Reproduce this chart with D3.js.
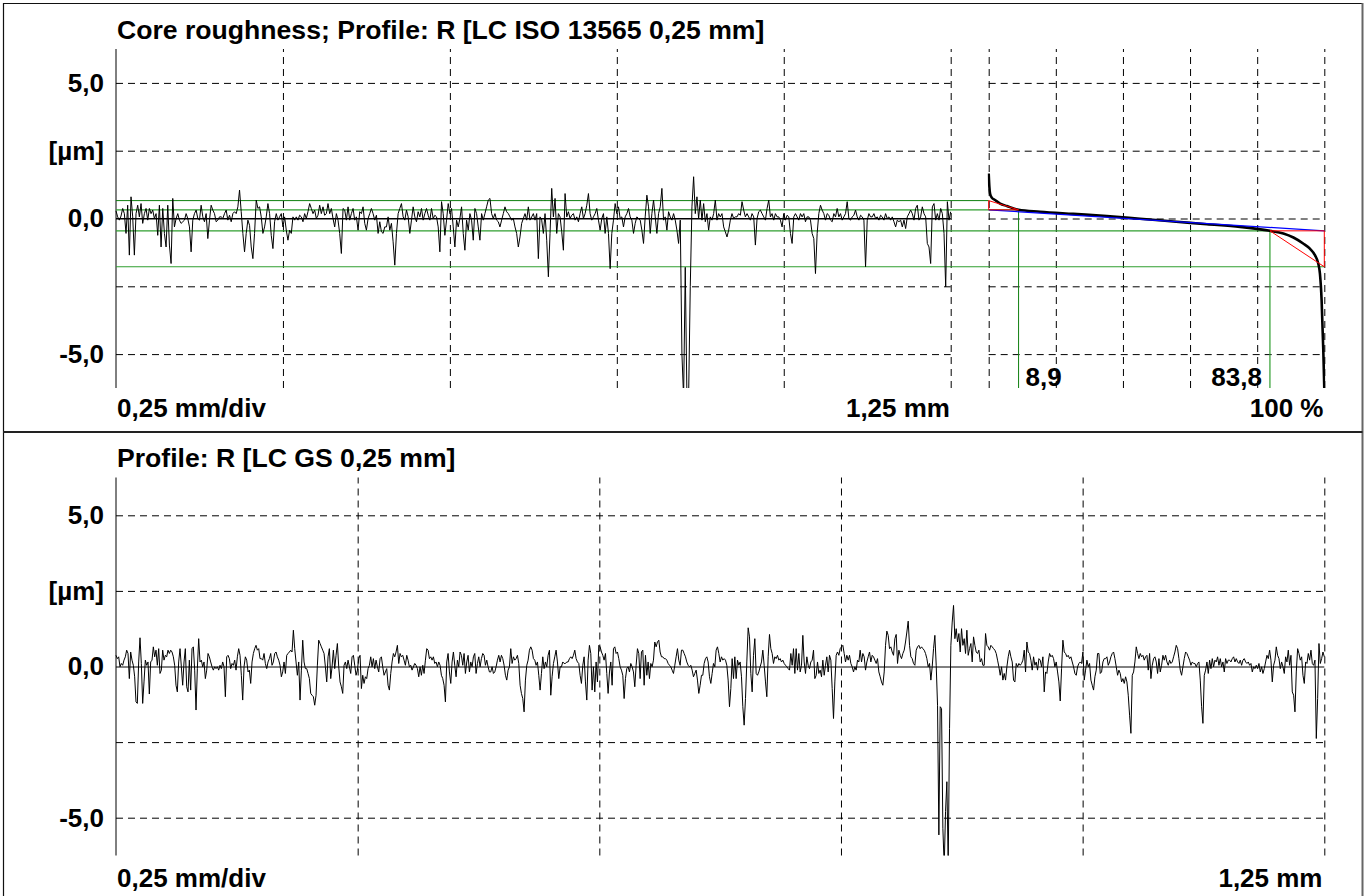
<!DOCTYPE html>
<html>
<head>
<meta charset="utf-8">
<title>Core roughness</title>
<script src="https://cdn.jsdelivr.net/npm/d3@7"></script>
<style>
  html, body { margin: 0; padding: 0; background: #fff; }
  svg { display: block; }
  text { font-family: "Liberation Sans", Arial, Helvetica, sans-serif; font-weight: bold; fill: #000; }
</style>
</head>
<body>
<svg id="chart" width="1370" height="896"></svg>
<script>
// ---- measurement data -------------------------------------------------------
const traverseMm = 1.25;            // evaluation length
const heightLimit = 6.25;           // vertical display range +/- [µm]

// Roughness profile, ISO 13565 filter (µm, equally spaced over traverseMm)
const profileISO = [
  0.28,0.06,-0.06,0.09,0.37,0.18,-0.55,0.49,-1.35,0.80,0.06,-1.35,0.18,0.49,0.06,0.55,-0.18,0.18,0.37,-0.06,
  0.37,0.18,0.31,0.00,0.18,-0.62,0.49,-1.05,0.37,-0.55,-1.05,0.49,-0.98,-1.66,0.74,-0.31,0.00,0.18,-0.06,-0.18,
  -0.12,-0.06,0.18,0.00,-0.31,-1.23,-0.06,0.18,0.31,0.00,-0.06,0.49,0.06,-0.12,0.18,-0.74,-0.06,0.49,0.31,0.18,
  -0.12,-0.06,0.06,0.06,0.00,0.18,0.31,-0.06,0.12,-0.12,0.18,0.25,0.18,0.43,1.05,0.25,-0.55,-1.23,-0.55,-0.06,
  -0.25,-1.05,-1.48,-0.55,0.68,0.37,0.43,0.06,-0.55,-0.31,0.06,0.55,0.18,-0.62,-1.11,-0.12,0.18,-0.06,0.06,0.18,
  -0.31,0.06,-0.43,-0.80,-0.43,-0.55,0.06,-0.06,0.06,-0.06,0.12,0.06,-0.12,0.18,0.00,0.25,0.55,0.37,0.18,0.31,
  0.00,0.12,0.49,0.18,0.43,0.12,0.18,0.55,0.18,0.37,0.00,-0.31,0.18,-0.06,-0.55,-1.29,0.37,0.31,-0.06,0.43,
  -0.06,0.18,0.37,-0.06,0.06,-0.43,0.25,0.18,0.43,-0.18,-0.43,0.00,0.18,0.37,0.18,-0.06,0.12,-0.55,-0.12,-0.49,
  -0.55,-0.31,-0.31,0.06,-0.43,-0.18,-0.86,-1.72,-0.55,0.18,0.37,0.55,0.06,-0.06,0.31,0.06,-0.55,-0.06,0.43,0.06,
  -0.12,0.25,0.06,0.37,-0.06,0.18,0.37,0.12,-0.06,0.37,0.00,0.12,0.06,-0.31,-1.23,0.62,0.18,-0.62,-0.06,0.55,
  0.18,0.37,-0.31,-1.05,-0.06,-0.31,
  0.00,0.43,-0.55,-1.17,-0.06,-0.43,0.18,-0.06,-0.80,0.37,0.18,-0.31,-0.80,0.18,-0.06,0.18,0.43,0.68,0.74,0.18,
  0.00,0.18,-0.06,-0.12,-0.31,-0.06,0.18,0.43,0.25,0.18,0.06,-0.06,0.00,-0.31,-0.55,-1.05,-0.68,-0.18,0.00,0.18,
  -0.06,0.43,-0.06,0.06,0.18,-0.06,0.18,-1.48,0.06,-0.06,-0.55,0.18,-0.80,-2.15,-0.55,1.11,0.06,0.74,-0.55,0.18,
  0.06,-0.49,-1.17,0.92,0.06,0.25,0.00,0.12,0.18,-0.06,0.06,-0.12,0.18,0.43,0.00,0.18,0.49,0.92,0.18,-0.06,
  0.06,0.18,0.37,-0.06,-0.43,0.00,0.18,-0.55,0.06,-0.55,-1.85,-0.55,-0.06,0.55,0.18,0.43,0.00,0.06,-0.31,0.06,
  0.18,0.37,0.06,-0.06,-0.55,-0.18,0.06,0.00,-0.06,-0.43,-0.92,0.06,0.86,0.43,-0.55,0.18,0.68,0.06,-0.55,0.18,
  0.43,1.11,-0.06,0.06,-0.43,0.25,0.06,-0.06,0.18,-0.06,-0.43,-0.92,-0.06,-5.00,-6.60,-1.80,-6.60,-6.60,-2.50,0.43,
  1.54,0.18,0.80,0.00,0.68,-0.06,0.55,-0.12,0.18,-0.43,0.06,-0.06,0.18,0.68,-0.06,0.18,0.06,0.18,-0.31,-0.49,
  -0.68,-0.43,-0.06,0.18,0.00,0.06,0.06,0.18,0.12,0.62,0.31,0.06,0.18,0.06,-0.06,0.18,0.06,-0.98,0.00,0.25,
  0.31,0.18,0.06,-0.06,0.37,0.68,0.06,0.18,-0.06,0.18,0.06,0.06,-0.06,-0.31,0.18,-0.06,0.12,0.06,-0.55,-0.92,
  0.06,0.18,0.06,-0.06,0.18,0.06,0.18,-0.12,0.06,0.06,-0.06,-0.55,-0.74,-2.03,-0.55,0.18,0.49,0.31,0.18,-0.06,
  0.18,0.12,-0.06,-0.12,0.18,0.06,0.37,0.06,0.18,-0.06,0.06,0.18,0.62,0.00,-0.06,0.06,0.12,0.31,0.06,-0.06,
  0.12,0.06,-0.06,-1.78,-0.06,0.18,0.06,0.06,0.18,0.00,0.06,-0.06,0.12,0.06,-0.06,0.18,0.00,0.06,-0.06,0.06,
  -0.12,-0.31,-0.06,-0.12,-0.06,-0.31,-0.06,-0.37,0.06,0.18,0.31,0.18,-0.06,0.37,0.49,-0.06,0.06,0.43,0.18,0.06,
  -0.92,-1.05,-1.66,0.43,0.55,-0.06,0.18,-0.06,0.37,0.18,-0.55,-2.52,0.62,-0.06,0.25
];

// Roughness profile, Gaussian filter (µm, equally spaced over traverseMm)
const profileGS = [
  0.37,0.26,0.32,-0.01,0.10,0.04,0.21,0.32,0.54,0.43,-0.40,0.48,0.21,0.04,-0.34,-1.17,-1.22,0.15,0.95,0.10,
  -1.22,-0.51,0.21,0.04,0.15,-0.91,0.15,0.21,0.65,0.32,0.54,0.04,0.59,-0.23,-0.12,0.54,0.21,0.37,0.32,0.54,
  0.43,0.54,0.48,0.32,0.04,-0.62,-0.84,0.15,0.59,-0.01,-0.62,0.15,0.59,-0.67,-0.84,0.21,-0.78,0.59,0.65,-0.12,
  -1.44,-0.07,0.92,0.15,0.21,-0.01,0.15,-0.40,-0.12,0.43,0.32,0.15,-0.01,-0.12,-0.01,-0.07,-0.01,-0.12,0.04,-0.07,
  0.15,-0.01,-1.00,0.32,0.37,0.26,-0.07,0.10,0.04,0.21,-0.12,0.32,0.59,0.37,-0.29,-1.11,-0.01,0.32,0.21,-0.18,
  -0.12,-0.56,0.15,0.43,0.59,0.70,0.54,0.59,0.26,0.26,0.21,0.43,0.10,-0.07,0.15,0.26,0.43,0.04,0.15,0.43,
  0.48,0.32,0.21,0.04,-0.34,-0.18,0.15,-0.23,0.37,0.43,0.48,0.54,0.48,1.20,0.59,0.15,-0.29,0.15,-1.11,-0.12,
  0.87,0.15,-0.07,-0.07,-0.23,-0.40,-0.89,-0.95,-1.00,-1.28,-0.95,0.04,0.87,0.76,0.65,0.54,0.43,-0.01,-0.51,0.32,
  0.59,-0.40,-0.01,0.54,-0.07,0.37,0.76,-0.01,-0.51,-0.67,-0.89,0.04,0.15,-0.07,0.21,-0.01,-0.23,0.32,0.37,0.04,
  -0.29,-0.12,0.26,0.37,-0.73,-0.29,-0.56,-0.34,-0.40,-0.07,0.04,0.32,-0.01,0.26,-0.07,0.21,-0.01,-0.18,0.26,0.32,
  -0.01,-0.29,-0.18,-0.07,-0.62,-0.78,-0.23,0.15,0.43,0.32,0.48,0.70,0.10,0.43,0.32,0.37,0.21,0.04,0.37,0.21,
  -0.01,0.04,-0.12,-0.01,0.10,0.04,
  -0.07,-0.34,-0.01,-0.29,0.04,-0.23,0.21,0.59,0.54,0.26,0.32,0.21,0.32,0.10,0.15,-0.01,0.15,0.04,-0.29,-0.40,
  -0.62,-1.17,0.15,0.43,-0.18,-0.56,0.15,0.48,0.04,-0.34,0.21,-0.01,0.48,0.37,0.04,0.43,-0.23,0.15,0.37,-0.18,
  0.15,-0.01,0.32,0.43,-0.23,0.10,0.32,-0.01,0.26,0.43,0.37,0.04,0.21,-0.01,-0.18,-0.18,-0.01,-0.23,-0.18,-0.01,
  0.21,0.37,0.15,0.37,0.26,0.04,-0.29,-0.45,-0.12,-0.01,0.59,0.10,0.32,0.21,0.26,0.37,0.10,-0.62,-0.89,-1.06,
  -1.50,-0.45,0.04,0.21,0.54,0.65,0.54,0.26,0.21,0.04,0.15,-0.29,-0.78,-0.23,0.32,-0.07,0.15,-0.01,0.37,0.54,
  -0.95,-0.34,0.10,0.32,0.54,0.15,-0.40,-0.01,-0.01,0.15,0.10,0.10,0.15,0.15,0.26,0.32,0.26,0.37,0.54,0.26,
  0.15,0.10,-0.29,-0.56,0.04,0.32,-0.51,-1.11,0.21,0.70,0.43,-0.78,-0.01,-0.84,0.15,-0.51,0.70,0.65,0.48,0.37,
  0.21,0.43,-0.23,-0.89,-0.18,0.15,-0.62,0.59,0.65,0.43,0.48,0.26,-0.01,-0.12,-0.29,-1.06,-0.40,-0.07,-0.01,-0.18,
  0.10,-0.01,-0.18,-0.67,0.04,0.59,0.43,-0.40,0.48,0.54,-0.62,0.37,-0.29,0.15,-0.40,0.10,-0.01,0.21,0.81,0.65,
  0.81,0.87,0.48,0.32,0.32,0.26,0.26,0.21,0.10,0.04,-0.01,-0.12,-0.23,0.04,0.32,0.59,0.21,0.04,0.54,0.54,
  0.43,0.32,0.15,0.04,-0.01,0.04,-0.12,-0.34,-0.23,-0.12,-0.45,-0.89,-0.62,-0.29,-0.29,0.10,0.26,0.32,0.15,-0.34,
  -0.56,-0.23,0.10,-0.01,0.54,0.65,0.43,
  0.15,0.32,0.21,0.26,0.21,0.04,-0.45,-1.33,-0.73,0.26,-0.40,0.32,-0.40,0.21,0.04,0.15,-0.34,-1.33,-1.94,-1.06,
  0.15,1.28,0.98,-0.23,-0.84,0.37,0.92,-0.23,-0.29,-0.18,-0.01,0.15,0.54,0.04,-0.51,-1.00,0.32,1.06,0.59,0.43,
  0.10,0.32,0.26,0.37,0.21,0.26,0.15,0.21,0.10,0.04,-0.01,-0.07,-0.12,0.43,0.04,0.59,-0.23,0.59,-0.12,0.43,
  -0.18,0.04,1.03,0.15,-0.23,0.32,0.04,-0.07,0.15,0.21,0.54,-0.40,-0.29,0.15,-0.23,-0.12,-0.34,0.21,-0.29,0.04,
  0.32,-0.18,0.37,0.21,-0.73,-1.72,-0.51,0.37,0.48,0.37,0.59,0.65,0.70,0.43,0.15,0.37,0.21,0.37,0.10,-0.01,
  -0.18,-0.01,-0.12,0.21,0.15,0.54,0.15,0.43,0.32,-0.12,0.15,0.32,0.48,0.15,0.37,0.32,0.21,0.10,0.26,-0.18,
  -0.34,-0.51,-0.62,-0.18,0.70,1.17,1.03,0.59,0.65,0.48,0.37,0.92,1.06,0.10,0.54,0.37,0.26,0.43,0.54,0.81,
  1.14,1.50,0.70,0.32,0.26,0.10,0.04,0.54,0.65,0.70,0.59,0.65,0.59,0.54,0.43,0.26,-0.01,0.10,-0.45,-0.01,
  0.59,1.03,0.04,-1.28,-5.57,-1.33,-1.39,-5.35,-6.60,-4.80,-3.81,-6.60,-2.05,0.70,1.47,2.02,0.92,1.25,0.81,1.09,
  0.48,1.25,0.70,0.92,0.43,1.20,0.37,0.59,0.76,0.15,0.98,0.70,0.48,0.43,0.54,0.15,0.26,0.04,0.04,1.09,
  0.70,0.65,0.54,0.70,0.65,0.59,0.54,0.43,0.21,-0.01,-0.29,-0.01,-0.45,-0.23,-0.45,-0.01,0.32,0.54,0.32,0.15,
  -0.45,-0.51,0.10,-0.01,0.10,0.04,
  0.10,0.21,0.54,-0.18,0.81,0.48,0.43,0.21,-0.12,0.32,0.04,0.15,-0.12,0.26,0.21,-0.01,0.32,-0.84,-0.18,-0.23,
  0.15,0.43,0.32,0.37,0.26,-0.01,0.15,-0.18,-0.51,-1.14,-0.07,0.87,0.48,0.43,0.32,0.37,0.26,0.32,0.15,-0.01,
  -0.23,-0.29,-0.01,0.10,0.15,0.10,0.48,-0.45,-0.12,0.21,-0.01,0.10,-0.45,-0.62,-0.78,-0.34,-0.12,0.43,0.43,-0.23,
  -0.18,0.15,0.26,0.26,0.32,0.04,0.15,0.32,0.43,0.48,0.26,-0.01,-0.29,-0.12,-0.23,-0.51,-0.40,-0.56,-0.34,-0.51,
  -0.95,-1.61,-2.21,-0.29,-0.18,0.15,0.65,0.43,0.26,0.43,0.32,0.37,0.21,0.32,0.37,-0.12,0.43,-0.40,0.04,0.26,
  0.32,0.15,-0.23,0.26,-0.18,0.04,0.37,0.21,0.37,0.15,0.04,0.21,0.10,0.15,0.32,0.48,0.70,0.59,0.26,-0.12,
  -0.29,-0.01,0.26,0.48,0.43,0.32,0.21,0.04,0.15,0.10,0.10,-0.01,0.10,0.15,-0.45,-1.33,-1.88,-0.29,-0.12,0.15,
  -0.23,0.21,-0.07,0.26,-0.01,0.21,0.15,0.32,0.04,0.26,-0.01,0.15,-0.18,0.26,0.10,0.21,0.21,0.15,0.26,0.32,
  0.15,0.26,0.15,0.10,0.21,0.04,0.21,0.26,0.15,0.10,0.15,0.04,0.10,-0.18,-0.01,-0.07,0.04,-0.07,0.10,-0.18,
  -0.01,-0.23,-0.07,0.15,0.37,0.26,0.54,0.21,-0.51,0.04,0.21,0.65,0.37,0.26,-0.07,0.15,-0.01,-0.23,0.32,0.15,
  0.54,0.04,0.37,-0.84,-0.95,-1.50,-0.18,0.59,0.43,0.21,0.32,-0.29,-0.56,0.15,0.10,0.43,0.21,0.54,0.10,0.04,
  0.21,-2.38,-1.06,0.76,0.10,0.26,0.48,0.32
];

// Material ratio (Abbott-Firestone) curve of the ISO 13565 profile
const abbottRatio  = [0, 0.2, 0.4, 0.9, 1.9, 3.4, 5.4, 8.9, 15.3, 25.2, 35.2, 45.1, 55.0, 65.0, 74.9, 83.8, 87.8, 90.8, 93.7, 95.7, 97.2, 98.2, 98.7, 99.2, 99.7, 100];
const abbottHeight = [1.66, 1.17, 0.92, 0.77, 0.68, 0.55, 0.46, 0.32, 0.25, 0.17, 0.09, -0.01, -0.11, -0.21, -0.31, -0.455, -0.55, -0.70, -0.92, -1.11, -1.35, -1.66, -2.03, -3.01, -4.86, -6.27];

// Core roughness parameters (µm, %)
const rkUpper = 0.32;     // upper limit of the core
const rkLower = -0.455;   // lower limit of the core
const rpkTop = 0.66;      // reduced peak height level
const rvkBottom = -1.78;  // reduced valley depth level
const mr1 = 8.9;
const mr2 = 83.8;

// Axis ticks and labels
const yTickValues = [5, 2.5, 0, -2.5, -5];
const yTickLabels = ["5,0", "[µm]", "0,0", "", "-5,0"];
const xGridMm = [0.25, 0.5, 0.75, 1.0, 1.25];
const ratioGrid = [0, 20, 40, 60, 80, 100];

// ---- layout ---------------------------------------------------------------
const svg = d3.select("#chart");
const FONT = 26;
const TITLE_FONT = 26.6;
const DASH = "7,5";

const topBox = { left: 116, right: 950.7, top: 49, bottom: 388 };
const ratioBox = { left: 988.7, right: 1324.3, top: 49, bottom: 388 };
const botBox = { left: 116, right: 1324.3, top: 477.5, bottom: 855.5 };

const xTop = d3.scaleLinear().domain([0, traverseMm]).range([topBox.left, topBox.right]);
const yTop = d3.scaleLinear().domain([-heightLimit, heightLimit]).range([topBox.bottom, topBox.top]);
const xRatio = d3.scaleLinear().domain([0, 100]).range([ratioBox.left, ratioBox.right]);
const xBot = d3.scaleLinear().domain([0, traverseMm]).range([botBox.left, botBox.right]);
const yBot = d3.scaleLinear().domain([-heightLimit, heightLimit]).range([botBox.bottom, botBox.top]);

// ---- frame ------------------------------------------------------------------
const frame = svg.append("g");
frame.append("line").attr("x1", 3).attr("x2", 1362.5).attr("y1", 3.5).attr("y2", 3.5).attr("stroke", "#111").attr("stroke-width", 1.2);
frame.append("line").attr("x1", 3.5).attr("x2", 3.5).attr("y1", 3).attr("y2", 896).attr("stroke", "#111").attr("stroke-width", 1.2);
frame.append("line").attr("x1", 1362.5).attr("x2", 1362.5).attr("y1", 3).attr("y2", 896).attr("stroke", "#666").attr("stroke-width", 2);
frame.append("line").attr("x1", 3).attr("x2", 1362.5).attr("y1", 432).attr("y2", 432).attr("stroke", "#222").attr("stroke-width", 2);

// ---- helpers ------------------------------------------------------------------
function horizontalGrid(g, y, box, labels, solidZero) {
  const axis = d3.axisLeft(y)
    .tickValues(yTickValues)
    .tickSize(-(box.right - box.left))
    .tickPadding(12)
    .tickFormat((d, i) => labels ? yTickLabels[i] : "");
  const ag = g.append("g").attr("transform", `translate(${box.left},0)`).call(axis);
  ag.select(".domain").remove();
  ag.selectAll(".tick line")
    .attr("stroke", "#000")
    .attr("stroke-width", 1)
    .attr("stroke-dasharray", d => (solidZero && d === 0) ? null : DASH);
  ag.selectAll(".tick text")
    .attr("font-size", FONT)
    .attr("font-family", "Liberation Sans, Arial, sans-serif")
    .attr("font-weight", "bold")
    .attr("fill", "#000");
  return ag;
}

function verticalGrid(g, x, values, box) {
  const axis = d3.axisBottom(x)
    .tickValues(values)
    .tickSize(-(box.bottom - box.top))
    .tickFormat("");
  const ag = g.append("g").attr("transform", `translate(0,${box.bottom})`).call(axis);
  ag.select(".domain").remove();
  ag.selectAll(".tick line")
    .attr("stroke", "#000")
    .attr("stroke-width", 1)
    .attr("stroke-dasharray", DASH);
  return ag;
}

function label(txt, x, y, anchor, size) {
  svg.append("text")
    .attr("x", x).attr("y", y)
    .attr("text-anchor", anchor || "start")
    .attr("font-size", size || FONT)
    .text(txt);
}

const defs = svg.append("defs");
function clipRect(id, box) {
  defs.append("clipPath").attr("id", id).append("rect")
    .attr("x", box.left - 1).attr("y", box.top)
    .attr("width", box.right - box.left + 2).attr("height", box.bottom - box.top);
  return `url(#${id})`;
}

const GREEN = "#2f9e2f";
const GREEN_DARK = "#0f7f0f";

// ---- upper panel: core roughness -----------------------------------------------
const gTop = svg.append("g");
label("Core roughness; Profile: R [LC ISO 13565 0,25 mm]", 117, 38.5, "start", TITLE_FONT);

verticalGrid(gTop, xTop, xGridMm, topBox);
horizontalGrid(gTop, yTop, topBox, true, true);
verticalGrid(gTop, xRatio, ratioGrid, ratioBox);
horizontalGrid(gTop, yTop, ratioBox, false, false);

gTop.append("line")
  .attr("x1", topBox.left).attr("x2", topBox.left)
  .attr("y1", topBox.top).attr("y2", topBox.bottom)
  .attr("stroke", "#000").attr("stroke-width", 1);

// core limits carried from profile into the material ratio chart
const greenG = gTop.append("g").attr("fill", "none");
greenG.append("line")
  .attr("x1", xTop(0)).attr("x2", xRatio(0))
  .attr("y1", yTop(rpkTop)).attr("y2", yTop(rpkTop))
  .attr("stroke", GREEN_DARK).attr("stroke-width", 1);
greenG.append("line")
  .attr("x1", xTop(0)).attr("x2", xRatio(mr1))
  .attr("y1", yTop(rkUpper)).attr("y2", yTop(rkUpper))
  .attr("stroke", GREEN).attr("stroke-width", 1.2);
greenG.append("line")
  .attr("x1", xTop(0)).attr("x2", xRatio(mr2))
  .attr("y1", yTop(rkLower)).attr("y2", yTop(rkLower))
  .attr("stroke", GREEN).attr("stroke-width", 1.2);
greenG.append("line")
  .attr("x1", xTop(0)).attr("x2", xRatio(100))
  .attr("y1", yTop(rvkBottom)).attr("y2", yTop(rvkBottom))
  .attr("stroke", GREEN).attr("stroke-width", 1.2);
greenG.append("line")
  .attr("x1", xRatio(mr1)).attr("x2", xRatio(mr1))
  .attr("y1", yTop(rkUpper)).attr("y2", ratioBox.bottom)
  .attr("stroke", GREEN_DARK).attr("stroke-width", 1);
greenG.append("line")
  .attr("x1", xRatio(mr2)).attr("x2", xRatio(mr2))
  .attr("y1", yTop(rkLower)).attr("y2", ratioBox.bottom)
  .attr("stroke", GREEN).attr("stroke-width", 1.2);

// zero line of the profile
gTop.append("line")
  .attr("x1", topBox.left).attr("x2", topBox.right)
  .attr("y1", yTop(0)).attr("y2", yTop(0))
  .attr("stroke", "#000").attr("stroke-width", 1);

// profile trace
const clipTop = clipRect("clipTop", topBox);
gTop.append("path")
  .datum(profileISO)
  .attr("clip-path", clipTop)
  .attr("fill", "none")
  .attr("stroke", "#000")
  .attr("stroke-width", 1)
  .attr("stroke-linejoin", "round")
  .attr("d", d3.line()
    .x((d, i) => xTop(i * traverseMm / (profileISO.length - 1)))
    .y(d => yTop(d)));

// material ratio curve
const clipRatio = clipRect("clipRatio", ratioBox);
const abbott = abbottRatio.map((r, i) => [r, abbottHeight[i]]);
gTop.append("path")
  .datum(abbott)
  .attr("clip-path", clipRatio)
  .attr("fill", "none")
  .attr("stroke", "#000")
  .attr("stroke-width", 2.6)
  .attr("d", d3.line().x(d => xRatio(d[0])).y(d => yTop(d[1])).curve(d3.curveMonotoneX));

// equivalent straight line of the core
gTop.append("line")
  .attr("x1", xRatio(0)).attr("y1", yTop(rkUpper))
  .attr("x2", xRatio(100)).attr("y2", yTop(rkLower))
  .attr("stroke", "#0000ff").attr("stroke-width", 1.2);

// peak and valley area triangles
const tri = d3.line().x(d => xRatio(d[0])).y(d => yTop(d[1]));
gTop.append("path")
  .attr("d", tri([[0, rpkTop], [0, rkUpper], [mr1, rkUpper], [0, rpkTop]]))
  .attr("fill", "none").attr("stroke", "#ff0000").attr("stroke-width", 1);
gTop.append("path")
  .attr("d", tri([[mr2, rkLower], [100, rkLower], [100, rvkBottom], [mr2, rkLower]]))
  .attr("fill", "none").attr("stroke", "#ff0000").attr("stroke-width", 1);

label(String(mr1).replace(".", ","), xRatio(mr1) + 7, 386);
label(String(mr2).replace(".", ","), xRatio(mr2) - 8, 386, "end");
label("0,25 mm/div", 117, 417);
label("1,25 mm", 950, 417, "end");
label("100 %", 1323.5, 417, "end");

// ---- lower panel: Gaussian-filtered profile -------------------------------------
const gBot = svg.append("g");
label("Profile: R [LC GS 0,25 mm]", 117, 466.5, "start", TITLE_FONT);

verticalGrid(gBot, xBot, xGridMm, botBox);
horizontalGrid(gBot, yBot, botBox, true, true);

gBot.append("line")
  .attr("x1", botBox.left).attr("x2", botBox.left)
  .attr("y1", botBox.top).attr("y2", botBox.bottom)
  .attr("stroke", "#000").attr("stroke-width", 1);

const clipBot = clipRect("clipBot", botBox);
gBot.append("path")
  .datum(profileGS)
  .attr("clip-path", clipBot)
  .attr("fill", "none")
  .attr("stroke", "#000")
  .attr("stroke-width", 1)
  .attr("stroke-linejoin", "round")
  .attr("d", d3.line()
    .x((d, i) => xBot(i * traverseMm / (profileGS.length - 1)))
    .y(d => yBot(d)));

label("0,25 mm/div", 117, 886.5);
label("1,25 mm", 1322.5, 886.5, "end");
</script>
</body>
</html>
